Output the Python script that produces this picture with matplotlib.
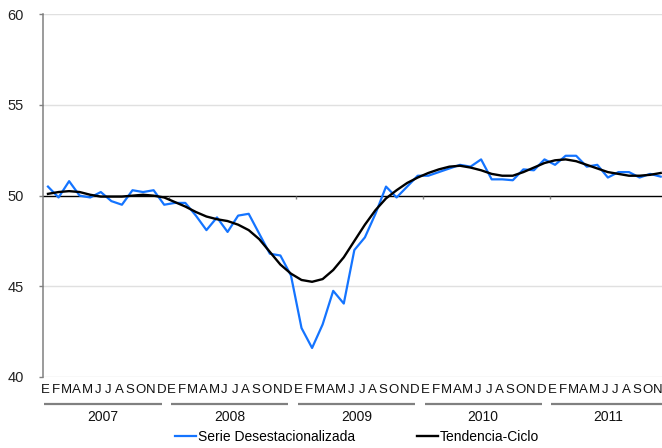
import matplotlib
matplotlib.use('Agg')
import matplotlib.pyplot as plt
import numpy as np
from matplotlib.transforms import blended_transform_factory

plt.rcParams['font.family'] = ['Liberation Sans', 'DejaVu Sans']

years = ['2007', '2008', '2009', '2010', '2011']
month_letters = ['E', 'F', 'M', 'A', 'M', 'J', 'J', 'A', 'S', 'O', 'N', 'D']
month_labels = (month_letters * 5)[:59]

serie = [50.5, 49.9, 50.8, 50.0, 49.9, 50.2, 49.7, 49.5, 50.3, 50.2, 50.3, 49.5,
         49.6, 49.6, 48.9, 48.1, 48.8, 48.0, 48.9, 49.0, 47.9, 46.8, 46.7, 45.6,
         42.7, 41.6, 42.9, 44.75, 44.05, 47.0, 47.7, 49.0, 50.5, 49.9, 50.5, 51.1,
         51.1, 51.3, 51.5, 51.7, 51.6, 52.0, 50.9, 50.9, 50.85, 51.45, 51.4, 52.0,
         51.7, 52.2, 52.2, 51.6, 51.7, 51.0, 51.3, 51.3, 51.0, 51.2, 51.05]
tendencia = [50.1, 50.2, 50.25, 50.2, 50.05, 49.95, 49.95, 49.95, 50.0, 50.05, 50.0, 49.9,
             49.65, 49.4, 49.1, 48.85, 48.7, 48.6, 48.4, 48.1, 47.6, 46.9, 46.2, 45.7,
             45.35, 45.25, 45.4, 45.9, 46.6, 47.5, 48.4, 49.2, 49.85, 50.3, 50.7, 51.0,
             51.25, 51.45, 51.6, 51.65, 51.55, 51.4, 51.2, 51.1, 51.1, 51.3, 51.55, 51.8,
             51.95, 52.0, 51.9, 51.7, 51.5, 51.3, 51.2, 51.1, 51.1, 51.15, 51.25]
y_ticks = [40, 45, 50, 55, 60]

fig = plt.figure(figsize=(6.62, 4.48), dpi=100)
ax = fig.add_axes([0.0645, 0.1585, 0.9415, 0.8095])
x = np.arange(len(serie))
ax.plot(x, serie, color='#1474FF', lw=1.6, label='Serie Desestacionalizada', zorder=3)
ax.plot(x, tendencia, color='black', lw=1.7, label='Tendencia-Ciclo', zorder=4)

ax.set_xlim(-0.5, len(serie) - 0.5)
ax.set_ylim(40, 60)
ax.set_yticks(y_ticks)
ax.set_yticklabels([str(v) for v in y_ticks], fontsize=10.5, color='#222222')
for v in y_ticks:
    if v != 50:
        ax.axhline(v, color='#e0e0e0', lw=1, zorder=0)
ax.axhline(50, color='black', lw=1, zorder=2)

for s in ['top', 'right', 'bottom']:
    ax.spines[s].set_visible(False)
ax.spines['left'].set_color('#808080')
ax.spines['left'].set_linewidth(1.1)
ax.tick_params(axis='y', length=3, color='#808080', width=1, pad=10.5)

# year boundary ticks on the 50 line
bounds = [12 * k - 0.5 for k in range(1, 5)]
ax.vlines(bounds, 50 - 0.16, 50, color='#808080', lw=1, zorder=2)

ax.set_xticks(x - 0.28)
ax.set_xticklabels(month_labels, fontsize=9.5, color='#111111')
ax.tick_params(axis='x', length=0, pad=5)

trans = blended_transform_factory(ax.transData, fig.transFigure)
n = len(serie)
for k, yr in enumerate(years):
    start = 12 * k - 0.5
    end = min(12 * k + 11.5, n - 0.5)
    s = start + 0.15
    e = end - 0.75 if end < n - 0.5 else end - 0.1
    ax.plot([s, e], [1 - 404 / 448, 1 - 404 / 448], transform=trans, color='#808080',
            lw=1.6, clip_on=False, solid_capstyle='butt')
    ax.text((s + e) / 2, 1 - 416.7 / 448, yr, transform=trans, ha='center', va='center',
            fontsize=10, color='#111111')

fig.legend(loc='center', bbox_to_anchor=(357 / 662, 1 - 436.5 / 448), ncol=2,
           frameon=False, fontsize=10, handlelength=1.5, handletextpad=0.1,
           columnspacing=4.5, borderpad=0, borderaxespad=0)

fig.savefig('out.png', dpi=100)
